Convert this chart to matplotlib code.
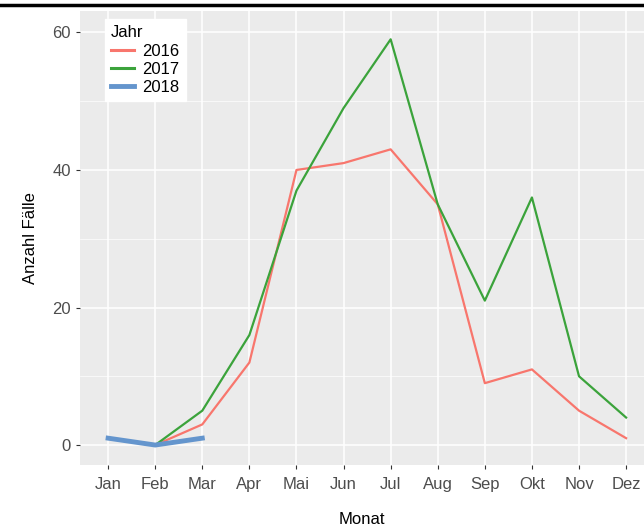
import matplotlib

matplotlib.use("Agg")
import matplotlib.pyplot as plt
from matplotlib.lines import Line2D

months = ["Jan", "Feb", "Mar", "Apr", "Mai", "Jun", "Jul", "Aug", "Sep", "Okt", "Nov", "Dez"]
cases_2016 = [0, 3, 12, 40, 41, 43, 35, 9, 11, 5, 1]        # Feb..Dez
cases_2017 = [0, 5, 16, 37, 49, 59, 35, 21, 36, 10, 4]      # Feb..Dez
cases_2018 = [1, 0, 1]                                      # Jan..Mar

colors = {"2016": "#F8766D", "2017": "#3BA33B", "2018": "#6495CD"}

plt.rcParams.update({"font.family": "Liberation Sans", "font.size": 12})
fig = plt.figure(figsize=(6.44, 5.29), dpi=100, facecolor="white")
ax = fig.add_axes([0.124, 0.121, 0.876, 0.858])
ax.set_facecolor("#EBEBEB")

x_all = list(range(12))
ax.plot(x_all[1:], cases_2016, color=colors["2016"], linewidth=1.6, zorder=3)
ax.plot(x_all[1:], cases_2017, color=colors["2017"], linewidth=1.6, zorder=3)
ax.plot(x_all[:3], cases_2018, color=colors["2018"], linewidth=3.5, zorder=4)

ax.set_xlim(-0.6, 11.38)
ax.set_ylim(-2.9, 63.1)
ax.set_xticks(x_all, labels=months)
ax.set_yticks([0, 20, 40, 60])
ax.set_yticks([10, 30, 50], minor=True)
ax.grid(which="major", color="white", linewidth=1.1, zorder=1)
ax.grid(which="minor", axis="y", color="white", linewidth=0.5, zorder=1)
ax.set_axisbelow(True)
for s in ax.spines.values():
    s.set_visible(False)
ax.tick_params(which="both", length=3, color="#333333", labelcolor="#4D4D4D", labelsize=12)
ax.tick_params(axis="x", pad=6)
ax.tick_params(which="minor", length=0)
ax.set_xlabel("Monat", fontsize=12, labelpad=14)
ax.set_ylabel("Anzahl Fälle", fontsize=12, labelpad=10)

handles = [
    Line2D([0], [0], color=colors["2016"], linewidth=2.2, label="2016"),
    Line2D([0], [0], color=colors["2017"], linewidth=2.2, label="2017"),
    Line2D([0], [0], color=colors["2018"], linewidth=3.5, label="2018"),
]
leg = ax.legend(handles=handles, title="Jahr", loc="upper left", bbox_to_anchor=(0.03, 1.0),
                frameon=True, fancybox=False, edgecolor="white", framealpha=1,
                handlelength=1.4, handletextpad=0.5, labelspacing=0.2, borderpad=0.35,
                fontsize=12, title_fontsize=12)
leg._legend_box.align = "left"

fig.add_artist(Line2D([0, 1], [0.991, 0.991], color="black", linewidth=2.5, transform=fig.transFigure))

fig.savefig("out.png", dpi=100, facecolor="white")
